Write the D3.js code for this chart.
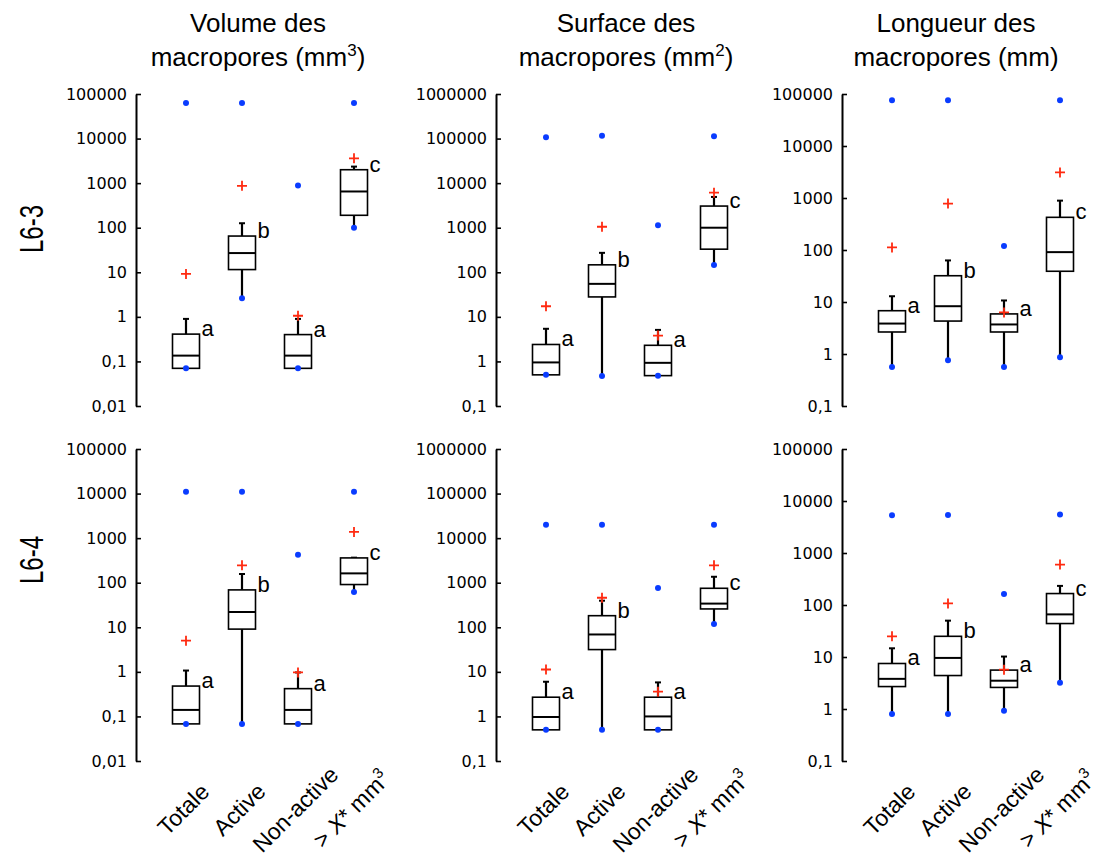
<!DOCTYPE html>
<html>
<head>
<meta charset="utf-8">
<script src="https://cdn.jsdelivr.net/npm/d3@7"></script>
<style>
body { margin: 0; background: #fff; }
text { font-family: "Liberation Sans", Arial, sans-serif; fill: #000; }
</style>
</head>
<body>
<div id="chart"></div>
<script>
var width = 1097,
    height = 857;

var categories = ["Totale", "Active", "Non-active", "> X* mm³"];
var letters = ["a", "b", "a", "c"];
var rowLabels = ["L6-3", "L6-4"];

// each row: [min, q1, median, q3, upper whisker, mean, max]
var volumeL63 = [
    [0.07, 0.07, 0.135, 0.41, 0.9, 9.2, 63000],
    [2.6, 11.5, 27, 65, 126, 870, 63000],
    [0.07, 0.07, 0.135, 0.4, 0.9, 1.06, 880],
    [100, 190, 650, 2000, 2350, 3600, 63000]
];
var surfaceL63 = [
    [0.5, 0.5, 0.95, 2.4, 5.4, 17.3, 107000],
    [0.47, 28, 55, 147, 273, 1050, 115000],
    [0.48, 0.48, 0.93, 2.3, 5.1, 3.8, 1140],
    [145, 330, 1000, 3060, 4900, 6100, 113000]
];
var longueurL63 = [
    [0.56, 2.65, 3.85, 6.8, 12.9, 112, 76000],
    [0.76, 4.3, 8.3, 32, 63, 780, 76000],
    [0.56, 2.65, 3.7, 5.9, 10.7, 6.3, 120],
    [0.87, 39, 91, 425, 890, 3100, 76000]
];
var volumeL64 = [
    [0.068, 0.068, 0.14, 0.48, 1.07, 5.0, 11000],
    [0.068, 9.1, 22, 69, 157, 245, 11000],
    [0.068, 0.068, 0.14, 0.42, 0.97, 0.97, 425],
    [62, 91, 162, 360, 365, 1380, 11000]
];
var surfaceL64 = [
    [0.5, 0.5, 0.97, 2.7, 6.0, 11.3, 20000],
    [0.5, 31.6, 69, 182, 395, 460, 20000],
    [0.5, 0.5, 1.0, 2.7, 5.8, 3.6, 760],
    [119, 258, 340, 750, 1360, 2450, 20000]
];
var longueurL64 = [
    [0.8, 2.7, 3.8, 7.5, 14.7, 25, 5300],
    [0.8, 4.4, 9.6, 25, 50, 107, 5400],
    [0.93, 2.6, 3.5, 5.6, 10.2, 5.7, 162],
    [3.2, 44, 66, 166, 233, 600, 5500]
];

var volumeTicks = [0.01, 0.1, 1, 10, 100, 1000, 10000, 100000];
var surfaceTicks = [0.1, 1, 10, 100, 1000, 10000, 100000, 1000000];
var longueurTicks = [0.1, 1, 10, 100, 1000, 10000, 100000];

var titles = [
    ["Volume des", "macropores (mm", "3", ")"],
    ["Surface des", "macropores (mm", "2", ")"],
    ["Longueur des", "macropores (mm)", "", ""]
];

var columns = [
    {ticks: volumeTicks, data: [volumeL63, volumeL64]},
    {ticks: surfaceTicks, data: [surfaceL63, surfaceL64]},
    {ticks: longueurTicks, data: [longueurL63, longueurL64]}
];

var axisX = [136, 496, 842],
    titleX = [258, 626, 956],
    rowTop = [94, 449],
    plotH = 312,
    boxW = 27,
    capW = 6;

var svg = d3.select("#chart").append("svg")
    .attr("width", width)
    .attr("height", height);

var x = d3.scalePoint()
    .domain(categories)
    .range([50, 218]);

var fmt = function(d) { return String(d).replace(".", ","); };

// titles
titles.forEach(function(t, c) {
    svg.append("text")
        .attr("x", titleX[c]).attr("y", 32)
        .attr("text-anchor", "middle")
        .style("font-size", "26px")
        .text(t[0]);
    var t2 = svg.append("text")
        .attr("x", titleX[c]).attr("y", 66)
        .attr("text-anchor", "middle")
        .style("font-size", "26px");
    t2.append("tspan").text(t[1]);
    if (t[2]) {
        t2.append("tspan").attr("dy", -10).style("font-size", "17px").text(t[2]);
        t2.append("tspan").attr("dy", 10).text(t[3]);
    }
});

// row labels
rowLabels.forEach(function(l, r) {
    svg.append("text")
        .attr("transform", "translate(43," + [229, 560][r] + ") rotate(-90)")
        .attr("text-anchor", "middle")
        .attr("textLength", 48)
        .attr("lengthAdjust", "spacingAndGlyphs")
        .style("font-size", "34px")
        .text(l);
});

columns.forEach(function(col, c) {
    col.data.forEach(function(rows, r) {
        var g = svg.append("g")
            .attr("transform", "translate(" + axisX[c] + "," + rowTop[r] + ")");

        var y = d3.scaleLog()
            .domain([col.ticks[0], col.ticks[col.ticks.length - 1]])
            .range([plotH, 0]);

        var ax = g.append("g")
            .call(d3.axisLeft(y)
                .tickValues(col.ticks)
                .tickFormat(fmt)
                .tickSizeInner(-5)
                .tickSizeOuter(0)
                .tickPadding(9));
        ax.attr("font-family", null).attr("font-size", null);
        ax.select(".domain").attr("stroke-width", 2);
        ax.selectAll(".tick line").attr("stroke-width", 1.6);
        ax.selectAll(".tick text")
            .style("font-family", "'DejaVu Sans', Verdana, sans-serif")
            .style("font-size", "16px");

        var b = g.selectAll(".box")
            .data(rows)
            .enter().append("g")
            .attr("class", "box")
            .attr("transform", function(d, i) { return "translate(" + x(categories[i]) + ",0)"; });

        // lower whisker
        b.append("line")
            .attr("y1", function(d) { return y(d[1]); })
            .attr("y2", function(d) { return y(d[0]); })
            .attr("stroke", "#000").attr("stroke-width", 2.2);
        // upper whisker + cap
        b.append("line")
            .attr("y1", function(d) { return y(d[3]); })
            .attr("y2", function(d) { return y(d[4]); })
            .attr("stroke", "#000").attr("stroke-width", 2.2);
        b.append("line")
            .attr("x1", -capW / 2).attr("x2", capW / 2)
            .attr("y1", function(d) { return y(d[4]); })
            .attr("y2", function(d) { return y(d[4]); })
            .attr("stroke", "#000").attr("stroke-width", 2);

        b.append("rect")
            .attr("x", -boxW / 2)
            .attr("width", boxW)
            .attr("y", function(d) { return y(d[3]); })
            .attr("height", function(d) { return y(d[1]) - y(d[3]); })
            .attr("fill", "#fff")
            .attr("stroke", "#000").attr("stroke-width", 1.6);
        b.append("line")
            .attr("x1", -boxW / 2).attr("x2", boxW / 2)
            .attr("y1", function(d) { return y(d[2]); })
            .attr("y2", function(d) { return y(d[2]); })
            .attr("stroke", "#000").attr("stroke-width", 2);

        // min and max markers
        b.append("circle")
            .attr("cy", function(d) { return y(d[6]); })
            .attr("r", 3).attr("fill", "#0a3cff");
        b.append("circle")
            .attr("cy", function(d) { return y(d[0]); })
            .attr("r", 3).attr("fill", "#0a3cff");

        // mean
        b.append("path")
            .attr("d", function(d) {
                var m = y(d[5]);
                return "M-5," + m + "H5M0," + (m - 5) + "V" + (m + 5);
            })
            .attr("stroke", "#ff2a10").attr("stroke-width", 1.8).attr("fill", "none");

        b.append("text")
            .attr("x", boxW / 2 + 2)
            .attr("y", function(d) { return y(d[3]) + 2; })
            .style("font-size", "22px")
            .text(function(d, i) { return letters[i]; });

        if (r === 1) {
            var lab = g.selectAll(".xlab")
                .data(categories)
                .enter().append("text")
                .attr("class", "xlab")
                .attr("text-anchor", "middle")
                .attr("transform", function(d) { return "translate(" + (x(d) + 3) + "," + (plotH + 54) + ") rotate(-45)"; })
                .style("font-size", "23px");
            lab.each(function(d, i) {
                var t = d3.select(this);
                if (i < 3) { t.text(d); return; }
                t.append("tspan").text("> ");
                t.append("tspan").style("font-style", "italic").text("X");
                t.append("tspan").text("* mm");
                t.append("tspan").attr("dy", -10).style("font-size", "15px").text("3");
            });
        }
    });
});
</script>
</body>
</html>
